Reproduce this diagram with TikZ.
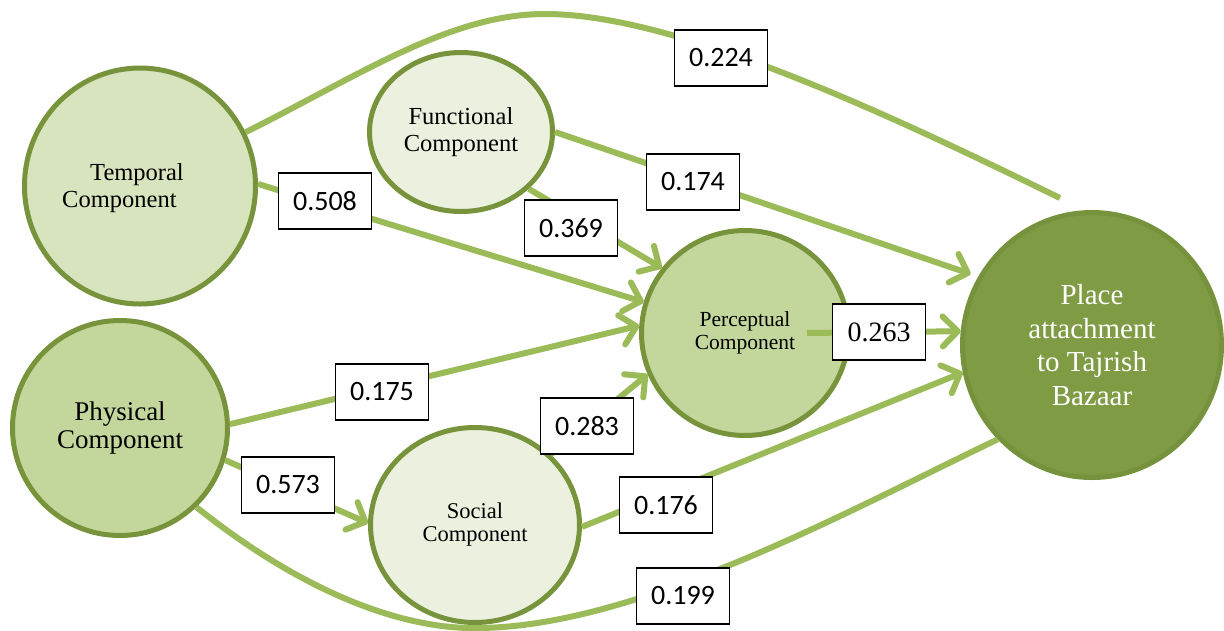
\documentclass[tikz,border=0pt]{standalone}
\usepackage{fontspec}
\setmainfont{Liberation Serif}
\newfontfamily\tnr{Liberation Serif}
\newfontfamily\carl{Carlito}
\usetikzlibrary{arrows.meta,shapes.geometric}
\definecolor{bord}{HTML}{77933C}
\definecolor{edgec}{HTML}{9BBB59}
\definecolor{fillA}{HTML}{D7E4BD}
\definecolor{fillB}{HTML}{EBF1DE}
\definecolor{fillC}{HTML}{C3D69B}
\definecolor{fillD}{HTML}{7F9C45}
\definecolor{bordD}{HTML}{76923C}
\begin{document}
\begin{tikzpicture}[x=1pt,y=-1pt,
  comp/.style={ellipse, draw=bord, line width=5pt, inner sep=0pt, align=center, text=black},
  lbl/.style={inner sep=0pt, text=black},
  val/.style={draw=black, line width=1.2pt, fill=white, minimum width=93pt, minimum height=56pt, inner sep=0pt, font=\carl\fontsize{28}{30}\selectfont},
  conn/.style={draw=edgec, line width=6pt},
  arr/.style={conn, -{Straight Barb[length=15pt,width=30pt,round]}}
]
\useasboundingbox[fill=white] (0,0) rectangle (1224,630);

% component nodes
\node[comp, fill=fillA, minimum width=231pt, minimum height=236pt] (temp) at (140,186) {};
\node[comp, fill=fillB, minimum width=183pt, minimum height=159pt, font=\tnr\fontsize{24.5}{27}\selectfont] (func) at (461,132) {Functional\\Component};
\node[comp, fill=fillC, minimum width=215pt, minimum height=215pt, font=\tnr\fontsize{27}{28}\selectfont] (phys) at (120,428) {Physical\\Component};
\node[comp, fill=fillC, minimum width=207pt, minimum height=205pt, font=\tnr\fontsize{21.5}{22.5}\selectfont] (perc) at (745,333) {Perceptual\\Component};
\node[comp, fill=fillB, minimum width=209pt, minimum height=195pt, font=\tnr\fontsize{22.5}{23}\selectfont] (soc) at (475,525) {Social\\Component};
\node[comp, draw=bordD, fill=fillD, text=white, minimum width=259pt, minimum height=265pt, font=\tnr\fontsize{29}{33.5}\selectfont] (place) at (1092,345) {Place\\attachment\\to Tajrish\\Bazaar};

\coordinate (top224) at (545,14);
\coordinate (e224) at (1060,198);
\coordinate (bot199) at (480,628);

% connectors
\draw[conn] (temp.27) .. controls (360,75) and (450,14) .. (top224)
            .. controls (680,14) and (900,120) .. (e224);
\draw[arr] (temp.1) -- (perc.163);
\draw[arr, shorten >=8pt] (func.0) -- (place.149);
\draw[arr] (func.-40) -- (perc.142);
\draw[arr] ([xshift=62pt]perc.center) -- (place.174);
\draw[arr] (phys.2) -- (perc.176);
\draw[arr] (soc.43) -- (perc.203);
\draw[arr] (phys.-17) -- (soc.179);
\draw[arr] (soc.-1) -- (place.192);
\draw[conn] (phys.-46) .. controls (300,590) and (400,630) .. (bot199)
            .. controls (640,626) and (850,510) .. (place.225);

% temporal label (offset inside its circle)
\node[lbl, align=left, font=\tnr\fontsize{24.5}{27}\selectfont] (templ) at (123,188) {\hspace*{28pt}Temporal\\Component};

% path coefficients
\node[val] (v224) at (721,58) {0.224};
\node[val] (v508) at (325,201) {0.508};
\node[val] (v174) at (693,182) {0.174};
\node[val] (v369) at (571,228) {0.369};
\node[val, font=\tnr\fontsize{28}{30}\selectfont] (v263) at (879,332) {0.263};
\node[val] (v175) at (382,392) {0.175};
\node[val] (v283) at (587,426) {0.283};
\node[val] (v573) at (288,485) {0.573};
\node[val] (v176) at (666,505) {0.176};
\node[val] (v199) at (683,596) {0.199};
\end{tikzpicture}
\end{document}
